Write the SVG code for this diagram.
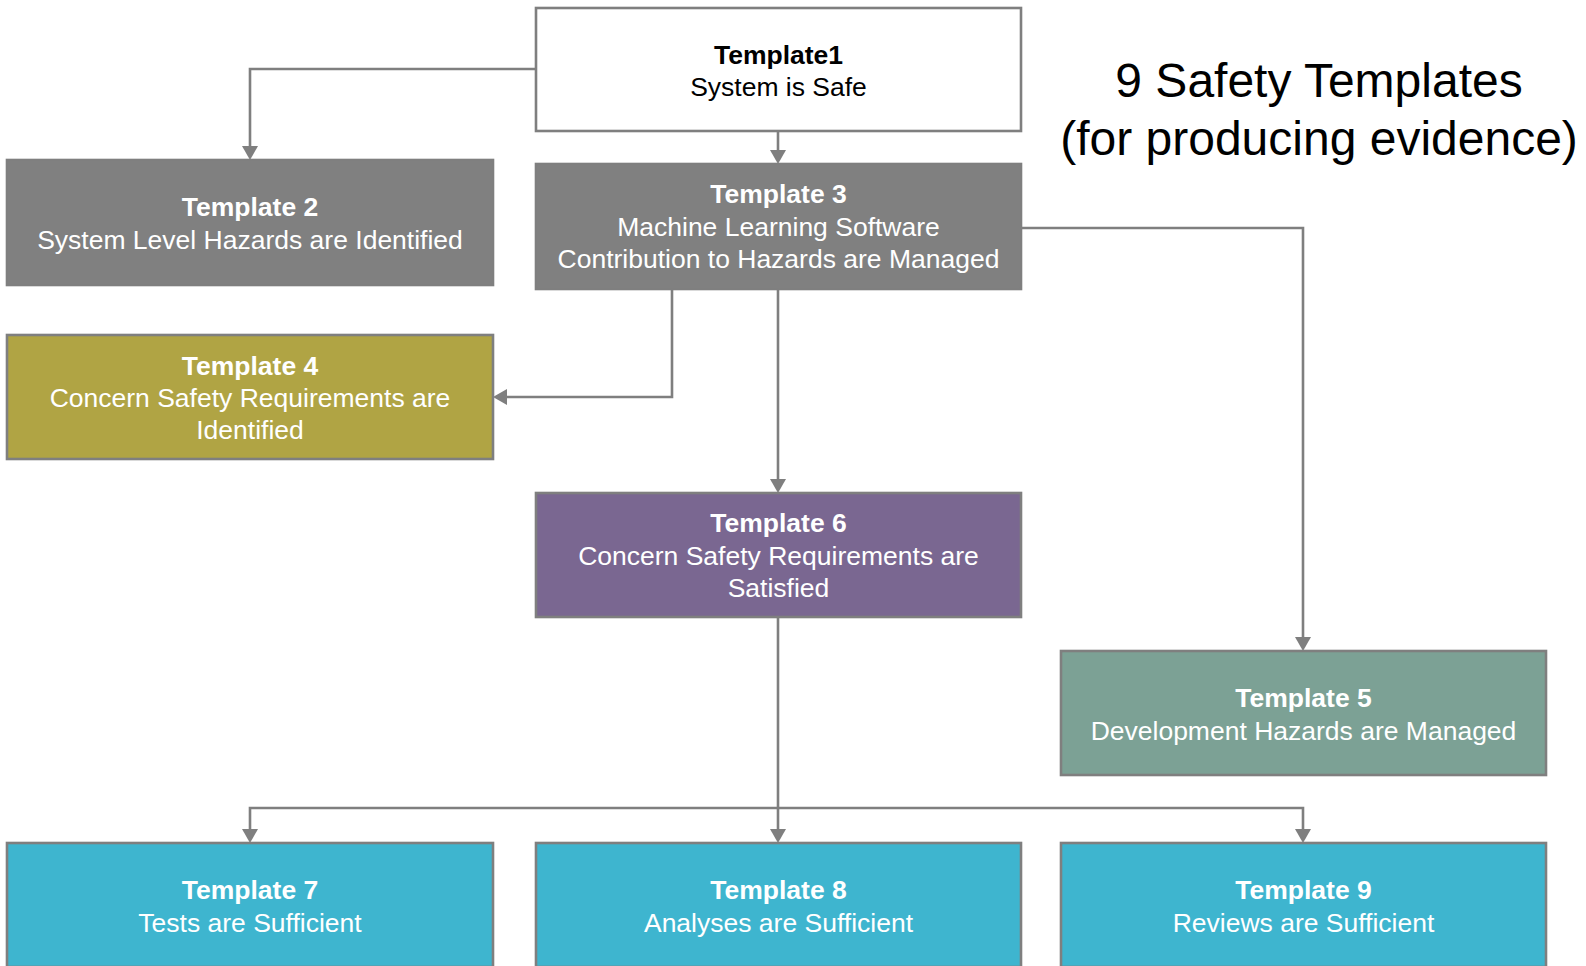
<svg xmlns="http://www.w3.org/2000/svg" width="1586" height="966" viewBox="0 0 1586 966">
  <style>
    .box { stroke: #7f7f7f; stroke-width: 2.6; }
    .t { font-family: "Liberation Sans", Arial, sans-serif; font-size: 26.5px; text-anchor: middle; fill: #ffffff; }
    .t .h { font-weight: bold; }
    .dark { fill: #000000; }
    .conn { fill: none; stroke: #7f7f7f; stroke-width: 2.6; marker-end: url(#arrow); }
    .title { font-family: "Liberation Sans", Arial, sans-serif; font-size: 48px; text-anchor: middle; fill: #000000; }
  </style>
  <defs>
    <marker id="arrow" markerUnits="userSpaceOnUse" markerWidth="14" markerHeight="16" viewBox="0 0 14 16" refX="9" refY="8" orient="auto">
      <path d="M0,0 L14,8 L0,16 z" fill="#7f7f7f"/>
    </marker>
  </defs>
  <rect width="1586" height="966" fill="#ffffff"/>

  <!-- connectors -->
  <g id="connectors">
    <path class="conn" d="M536,69 H250 V155"/>
    <path class="conn" d="M778,131 V159"/>
    <path class="conn" d="M672,289 V397 H498"/>
    <path class="conn" d="M778,289 V488"/>
    <path class="conn" d="M1021,228 H1303 V646"/>
    <path class="conn" d="M778,617 V838"/>
    <path class="conn" d="M778,808 H250 V838"/>
    <path class="conn" d="M778,808 H1303 V838"/>
  </g>

  <g id="template1">
    <rect class="box" x="536" y="8" width="485" height="123" fill="#ffffff"/>
    <text class="t dark" x="778.5" y="64"><tspan class="h">Template1</tspan><tspan x="778.5" y="96">System is Safe</tspan></text>
  </g>

  <g id="template2">
    <rect class="box" x="7" y="160" width="486" height="125" fill="#808080"/>
    <text class="t" x="250" y="216"><tspan class="h">Template 2</tspan><tspan x="250" y="248.5">System Level Hazards are Identified</tspan></text>
  </g>

  <g id="template3">
    <rect class="box" x="536" y="164" width="485" height="125" fill="#808080"/>
    <text class="t" x="778.5" y="203"><tspan class="h">Template 3</tspan><tspan x="778.5" y="235.5">Machine Learning Software</tspan><tspan x="778.5" y="268">Contribution to Hazards are Managed</tspan></text>
  </g>

  <g id="template4">
    <rect class="box" x="7" y="335" width="486" height="124" fill="#b0a444"/>
    <text class="t" x="250" y="374.5"><tspan class="h">Template 4</tspan><tspan x="250" y="407">Concern Safety Requirements are</tspan><tspan x="250" y="439">Identified</tspan></text>
  </g>

  <g id="template6">
    <rect class="box" x="536" y="493" width="485" height="124" fill="#7a6791"/>
    <text class="t" x="778.5" y="532"><tspan class="h">Template 6</tspan><tspan x="778.5" y="564.5">Concern Safety Requirements are</tspan><tspan x="778.5" y="596.5">Satisfied</tspan></text>
  </g>

  <g id="template5">
    <rect class="box" x="1061" y="651" width="485" height="124" fill="#7ca195"/>
    <text class="t" x="1303.5" y="707"><tspan class="h">Template 5</tspan><tspan x="1303.5" y="739.5">Development Hazards are Managed</tspan></text>
  </g>

  <g id="template7">
    <rect class="box" x="7" y="843" width="486" height="124" fill="#3eb5cf"/>
    <text class="t" x="250" y="899"><tspan class="h">Template 7</tspan><tspan x="250" y="931.5">Tests are Sufficient</tspan></text>
  </g>

  <g id="template8">
    <rect class="box" x="536" y="843" width="485" height="124" fill="#3eb5cf"/>
    <text class="t" x="778.5" y="899"><tspan class="h">Template 8</tspan><tspan x="778.5" y="931.5">Analyses are Sufficient</tspan></text>
  </g>

  <g id="template9">
    <rect class="box" x="1061" y="843" width="485" height="124" fill="#3eb5cf"/>
    <text class="t" x="1303.5" y="899"><tspan class="h">Template 9</tspan><tspan x="1303.5" y="931.5">Reviews are Sufficient</tspan></text>
  </g>

  <g id="title">
    <text class="title" x="1319" y="97">9 Safety Templates</text>
    <text class="title" x="1319" y="155">(for producing evidence)</text>
  </g>
</svg>
